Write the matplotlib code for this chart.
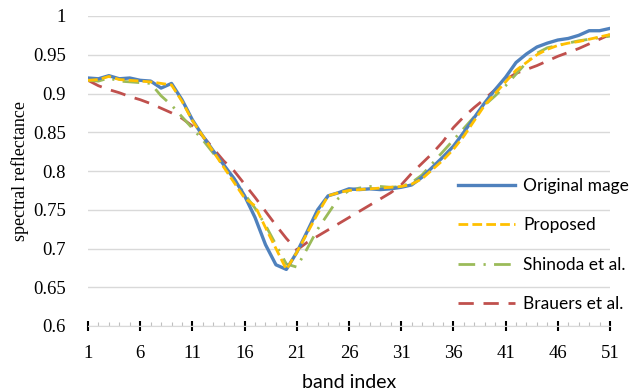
import numpy as np
import matplotlib
matplotlib.use('Agg')
import matplotlib.pyplot as plt
from matplotlib.ticker import MultipleLocator, FixedLocator

# band index 1..51
bands = np.arange(1, 52)

original = [0.920, 0.919, 0.923, 0.919, 0.920, 0.917, 0.916, 0.907, 0.913, 0.892,
            0.866, 0.845, 0.826, 0.808, 0.790, 0.768, 0.740, 0.705, 0.679, 0.673,
            0.695, 0.722, 0.750, 0.768, 0.772, 0.777, 0.776, 0.777, 0.776, 0.777,
            0.779, 0.782, 0.792, 0.805, 0.818, 0.832, 0.850, 0.869, 0.888, 0.905,
            0.921, 0.940, 0.951, 0.960, 0.965, 0.969, 0.971, 0.975, 0.981, 0.981,
            0.984]
proposed = [0.917, 0.918, 0.922, 0.918, 0.917, 0.916, 0.915, 0.913, 0.911, 0.890,
            0.865, 0.845, 0.825, 0.805, 0.785, 0.765, 0.755, 0.727, 0.700, 0.673,
            0.695, 0.720, 0.745, 0.768, 0.772, 0.775, 0.776, 0.777, 0.778, 0.779,
            0.780, 0.783, 0.790, 0.802, 0.814, 0.828, 0.845, 0.865, 0.885, 0.900,
            0.915, 0.930, 0.940, 0.950, 0.957, 0.962, 0.965, 0.967, 0.970, 0.973,
            0.976]
shinoda = [0.917, 0.916, 0.920, 0.916, 0.915, 0.914, 0.913, 0.897, 0.885, 0.870,
           0.855, 0.840, 0.823, 0.807, 0.790, 0.770, 0.752, 0.730, 0.705, 0.680,
           0.676, 0.700, 0.725, 0.745, 0.765, 0.775, 0.778, 0.780, 0.780, 0.779,
           0.780, 0.785, 0.795, 0.810, 0.825, 0.840, 0.855, 0.870, 0.885, 0.897,
           0.910, 0.925, 0.940, 0.952, 0.959, 0.962, 0.965, 0.968, 0.970, 0.972,
           0.974]
brauers = [0.917, 0.910, 0.905, 0.901, 0.896, 0.892, 0.887, 0.881, 0.875, 0.868,
           0.858, 0.845, 0.829, 0.813, 0.800, 0.783, 0.766, 0.748, 0.730, 0.713,
           0.698, 0.708, 0.716, 0.724, 0.732, 0.740, 0.748, 0.756, 0.764, 0.772,
           0.782, 0.797, 0.810, 0.823, 0.838, 0.856, 0.870, 0.882, 0.893, 0.905,
           0.918, 0.926, 0.931, 0.936, 0.942, 0.948, 0.953, 0.958, 0.964, 0.970,
           0.976]

labels = ['Original mage', 'Proposed', 'Shinoda et al.', 'Brauers et al.']
yticks = [0.6, 0.65, 0.7, 0.75, 0.8, 0.85, 0.9, 0.95, 1.0]
yticklabels = ['0.6', '0.65', '0.7', '0.75', '0.8', '0.85', '0.9', '0.95', '1']

fig = plt.figure(figsize=(6.32, 3.92), dpi=100)
ax = fig.add_axes([88/632, 1 - 326/392, (610-88)/632, (326-16)/392])

ax.plot(bands, original, color='#4F81BD', lw=2.4, label=labels[0], zorder=5)
ax.plot(bands, proposed, color='#FFC000', lw=2.0, ls=(0, (3.5, 1.5)), label=labels[1], zorder=6)
ax.plot(bands, shinoda, color='#9BBB59', lw=2.0, ls=(0, (6, 3, 0.8, 3)), label=labels[2], zorder=4)
ax.plot(bands, brauers, color='#C0504D', lw=2.0, ls=(0, (5.5, 3.5)), label=labels[3], zorder=3)

ax.set_xlim(1, 51)
ax.set_ylim(0.6, 1.0)
ax.yaxis.set_major_locator(FixedLocator(yticks))
ax.set_yticklabels(yticklabels)
ax.xaxis.set_major_locator(FixedLocator(range(1, 52, 5)))
ax.xaxis.set_minor_locator(MultipleLocator(1))
ax.grid(axis='y', color='#d9d9d9', lw=1.0)
ax.set_axisbelow(True)
for s in ['top', 'right', 'left']:
    ax.spines[s].set_visible(False)
ax.spines['bottom'].set_color('#d9d9d9')
ax.tick_params(axis='y', length=0, pad=16)
ax.tick_params(axis='x', which='major', direction='inout', length=7, width=1.5, color='black', pad=10)
ax.tick_params(axis='x', which='minor', direction='in', length=3, width=0.8, color='#bfbfbf')

for t in ax.get_xticklabels() + ax.get_yticklabels():
    t.set_fontfamily('Liberation Serif')
    t.set_fontsize(13.5)

ax.set_ylabel('spectral reflectance', fontfamily='Liberation Serif', fontsize=13, labelpad=3)
ax.set_xlabel('band index', fontfamily='Lato', fontsize=14, labelpad=9)

fig.legend(loc='upper left', bbox_to_anchor=(458/632, 1 - 178/392), frameon=False,
           prop={'family': 'Lato', 'size': 12.5}, handlelength=3.3, handletextpad=0.45,
           labelspacing=1.35, borderpad=0, borderaxespad=0)

fig.savefig('out.png', dpi=100)
